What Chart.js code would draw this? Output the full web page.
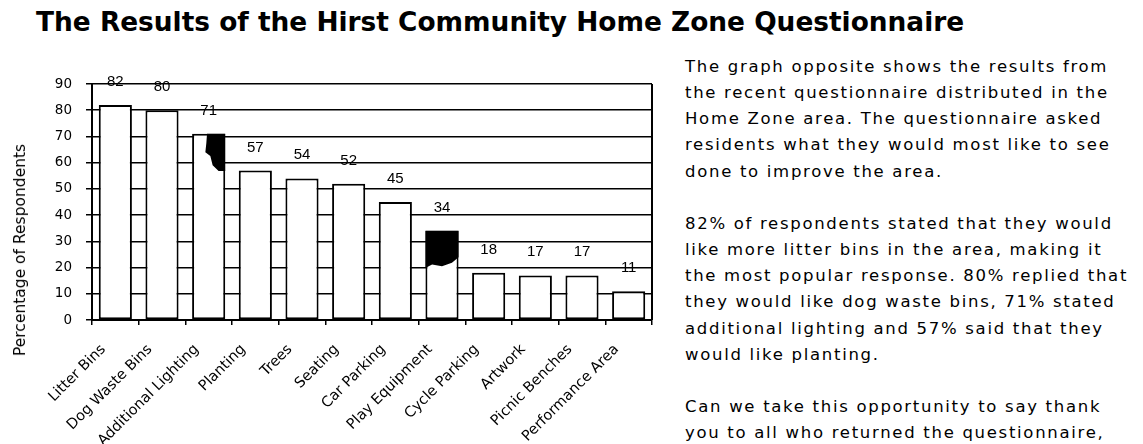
<!DOCTYPE html>
<html lang="en">
<head>
    <meta charset="UTF-8">
    <title>Hirst Community Home Zone Questionnaire</title>
    <script src="https://cdn.jsdelivr.net/npm/chart.js"></script>
    <style>
        body {
            margin: 0;
            background: #fff;
            width: 1143px;
            height: 444px;
            overflow: hidden;
            position: relative;
            font-family: "DejaVu Sans", sans-serif;
            color: #000;
        }

        #title {
            position: absolute;
            left: 36px;
            top: 6px;
            font-weight: bold;
            font-size: 26.4px;
            white-space: nowrap;
        }

        #chartBox {
            position: absolute;
            left: 0;
            top: 0;
            width: 660px;
            height: 444px;
        }

        #yTitle {
            position: absolute;
            left: 20px;
            top: 250px;
            font-size: 15.5px;
            white-space: nowrap;
            transform: translate(-50%, -50%) rotate(-90deg);
        }

        #notes {
            position: absolute;
            left: 685px;
            top: 54px;
            font-size: 16.5px;
            letter-spacing: 1.7px;
            line-height: 26.15px;
            white-space: nowrap;
        }

        #notes p {
            margin: 0 0 26.15px 0;
        }
    </style>
</head>
<body>

    <div id="title">The Results of the Hirst Community Home Zone Questionnaire</div>

    <div id="chartBox">
        <canvas id="barChart" width="660" height="444"></canvas>
    </div>
    <div id="yTitle">Percentage of Respondents</div>

    <div id="notes">
        <p>The graph opposite shows the results from<br>
        the recent questionnaire distributed in the<br>
        Home Zone area. The questionnaire asked<br>
        residents what they would most like to see<br>
        done to improve the area.</p>
        <p>82% of respondents stated that they would<br>
        like more litter bins in the area, making it<br>
        the most popular response. 80% replied that<br>
        they would like dog waste bins, 71% stated<br>
        additional lighting and 57% said that they<br>
        would like planting.</p>
        <p>Can we take this opportunity to say thank<br>
        you to all who returned the questionnaire,<br>
        your opinions are valued.</p>
    </div>

    <script>
        // chart data
        const categories = ['Litter Bins', 'Dog Waste Bins', 'Additional Lighting', 'Planting', 'Trees',
            'Seating', 'Car Parking', 'Play Equipment', 'Cycle Parking', 'Artwork', 'Picnic Benches',
            'Performance Area'];
        const percentages = [82, 80, 71, 57, 54, 52, 45, 34, 18, 17, 17, 11];
        const yMin = 0;
        const yMax = 90;
        const yStep = 10;

        // value printed above each bar
        const valueLabels = {
            id: 'valueLabels',
            afterDatasetsDraw(chart) {
                const ctx = chart.ctx;
                const meta = chart.getDatasetMeta(0);
                ctx.save();
                ctx.fillStyle = '#000';
                ctx.font = '15px "Liberation Sans", Arial, sans-serif';
                ctx.textAlign = 'center';
                ctx.textBaseline = 'alphabetic';
                meta.data.forEach((bar, i) => {
                    ctx.fillText(percentages[i], bar.x, bar.y - 19);
                });
                ctx.restore();
            }
        };

        // dark smudges of the scanned original on two bars
        const smudges = {
            id: 'smudges',
            afterDatasetsDraw(chart) {
                const ctx = chart.ctx;
                const meta = chart.getDatasetMeta(0);
                const shapes = {
                    2: [[0.45, 0], [1, 0], [1, 0.2], [0.8, 0.2], [0.62, 0.17], [0.55, 0.12], [0.4, 0.1], [0.43, 0.05]],
                    7: [[0, 0], [1, 0], [1, 0.3], [0.8, 0.36], [0.5, 0.4], [0.2, 0.38], [0, 0.42]]
                };
                ctx.save();
                ctx.fillStyle = '#000';
                Object.keys(shapes).forEach(k => {
                    const bar = meta.data[k];
                    const left = bar.x - bar.width / 2;
                    const h = bar.base - bar.y;
                    ctx.beginPath();
                    shapes[k].forEach((p, j) => {
                        const px = left + p[0] * bar.width;
                        const py = bar.y + p[1] * h;
                        if (j === 0) ctx.moveTo(px, py); else ctx.lineTo(px, py);
                    });
                    ctx.closePath();
                    ctx.fill();
                });
                ctx.restore();
            }
        };

        // closing line on the right of the plot
        const rightEdge = {
            id: 'rightEdge',
            afterDraw(chart) {
                const a = chart.chartArea;
                const ctx = chart.ctx;
                ctx.save();
                ctx.strokeStyle = '#000';
                ctx.lineWidth = 2;
                ctx.beginPath();
                ctx.moveTo(a.right, a.top);
                ctx.lineTo(a.right, a.bottom);
                ctx.stroke();
                ctx.restore();
            }
        };

        const ctx = document.getElementById('barChart').getContext('2d');
        new Chart(ctx, {
            type: 'bar',
            data: {
                labels: categories,
                datasets: [{
                    label: 'Percentage of Respondents',
                    data: percentages,
                    backgroundColor: '#fff',
                    borderColor: '#000',
                    borderWidth: 2,
                    borderSkipped: false,
                    categoryPercentage: 1,
                    barPercentage: 0.71
                }]
            },
            options: {
                responsive: false,
                animation: false,
                events: [],
                layout: { padding: { top: 84, right: 8, left: 0, bottom: 0 } },
                plugins: {
                    legend: { display: false },
                    tooltip: { enabled: false }
                },
                scales: {
                    x: {
                        afterFit: s => { s.height = 124; },
                        grid: {
                            drawOnChartArea: false,
                            color: '#000',
                            lineWidth: 1.5,
                            tickLength: 5
                        },
                        border: { color: '#000', width: 2 },
                        ticks: {
                            color: '#000',
                            font: { family: '"DejaVu Sans", sans-serif', size: 14.5 },
                            minRotation: 45,
                            maxRotation: 45,
                            padding: 16,
                            labelOffset: -12,
                            autoSkip: false
                        }
                    },
                    y: {
                        min: yMin,
                        max: yMax,
                        afterFit: s => { s.width = 92; },
                        grid: {
                            color: '#000',
                            lineWidth: 1.5,
                            tickLength: 6
                        },
                        border: { color: '#000', width: 2 },
                        ticks: {
                            stepSize: yStep,
                            color: '#000',
                            padding: 14,
                            font: { family: '"DejaVu Sans", sans-serif', size: 13.5 }
                        }
                    }
                }
            },
            plugins: [smudges, valueLabels, rightEdge]
        });
    </script>

</body>
</html>
